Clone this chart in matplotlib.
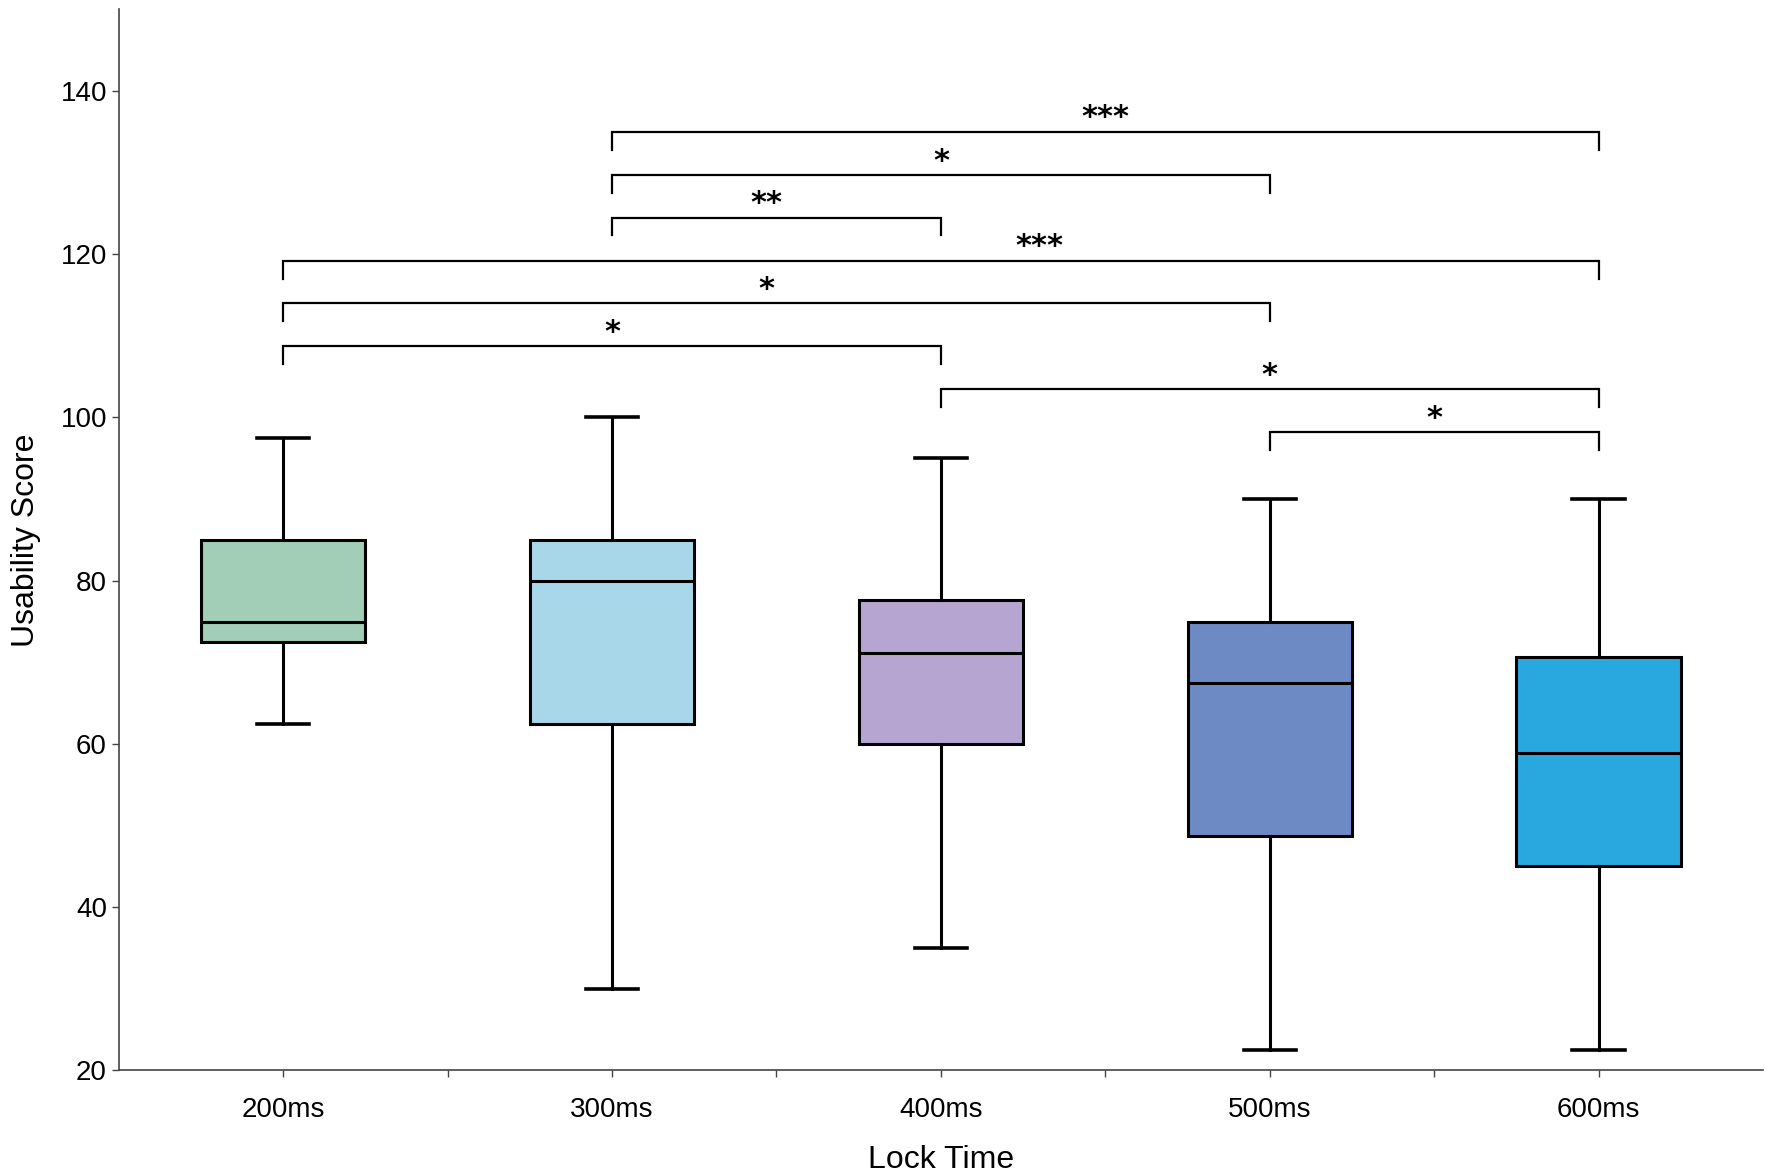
import numpy as np
import matplotlib
matplotlib.use('Agg')
import matplotlib.pyplot as plt

plt.rcParams['font.family'] = ['Liberation Sans Narrow', 'Liberation Sans', 'DejaVu Sans']

# data (five-number summaries)
groups = ['200ms', '300ms', '400ms', '500ms', '600ms']
whisk_lo = [62.5, 30.0, 35.0, 22.5, 22.5]
q1 = [72.5, 62.5, 60.0, 48.7, 45.0]
med = [75.0, 80.0, 71.2, 67.5, 58.9]
q3 = [85.0, 85.0, 77.6, 75.0, 70.6]
whisk_hi = [97.5, 100.0, 95.0, 90.0, 90.0]
colors = ['#a2cdb6', '#a8d7ea', '#b5a5d0', '#6e8ac4', '#29a8e0']

# significance brackets: (left group, right group, height, label, text x offset)
pair_a = [1, 1, 1, 0, 0, 0, 2, 3]
pair_b = [4, 3, 2, 4, 3, 2, 4, 4]
pair_y = [135.0, 129.7, 124.5, 119.2, 114.0, 108.7, 103.5, 98.2]
pair_lab = ['***', '*', '**', '***', '*', '*', '*', '*']
pair_dx = [0.0, 0.0, -0.03, 0.3, -0.03, 0.0, 0.0, 0.0]

fig = plt.figure(figsize=(17.72, 11.75), dpi=100)
ax = fig.add_axes([0.067, 0.089, 0.928, 0.903])

stats = []
for i in range(len(groups)):
    stats.append({'label': groups[i], 'whislo': whisk_lo[i], 'q1': q1[i],
                  'med': med[i], 'q3': q3[i], 'whishi': whisk_hi[i], 'fliers': []})

bp = ax.bxp(stats, positions=np.arange(len(groups)), widths=0.5, capwidths=0.16,
            patch_artist=True, showfliers=False,
            boxprops=dict(linewidth=2.2, edgecolor='black'),
            medianprops=dict(color='black', linewidth=2.2),
            whiskerprops=dict(color='black', linewidth=2.2),
            capprops=dict(color='black', linewidth=2.6))
for patch, c in zip(bp['boxes'], colors):
    patch.set_facecolor(c)

leg = 2.2
for a, b, y, lab, dx in zip(pair_a, pair_b, pair_y, pair_lab, pair_dx):
    ax.plot([a, a, b, b], [y - leg, y, y, y - leg], color='black', lw=1.6,
            solid_joinstyle='miter')
    ax.text((a + b) / 2 + dx, y + 1.7, lab, ha='center', va='center',
            fontsize=22, family='DejaVu Sans', fontweight='bold')

ax.set_xlim(-0.5, 4.5)
ax.set_ylim(20, 150)
ax.set_yticks([20, 40, 60, 80, 100, 120, 140])
ax.set_xticks(np.arange(len(groups)))
ax.set_xticklabels(groups)
ax.set_xticks(np.arange(len(groups) - 1) + 0.5, minor=True)

for s in ['top', 'right']:
    ax.spines[s].set_visible(False)
for s in ['left', 'bottom']:
    ax.spines[s].set_color('#444444')
    ax.spines[s].set_linewidth(1.2)

ax.tick_params(axis='both', which='both', direction='out', length=5, width=1.0,
               color='#444444', labelsize=20)
ax.tick_params(axis='x', which='major', pad=14)
ax.set_xlabel('Lock Time', fontsize=23, labelpad=16)
ax.set_ylabel('Usability Score', fontsize=23, labelpad=14)

fig.savefig('out.png', dpi=100)
